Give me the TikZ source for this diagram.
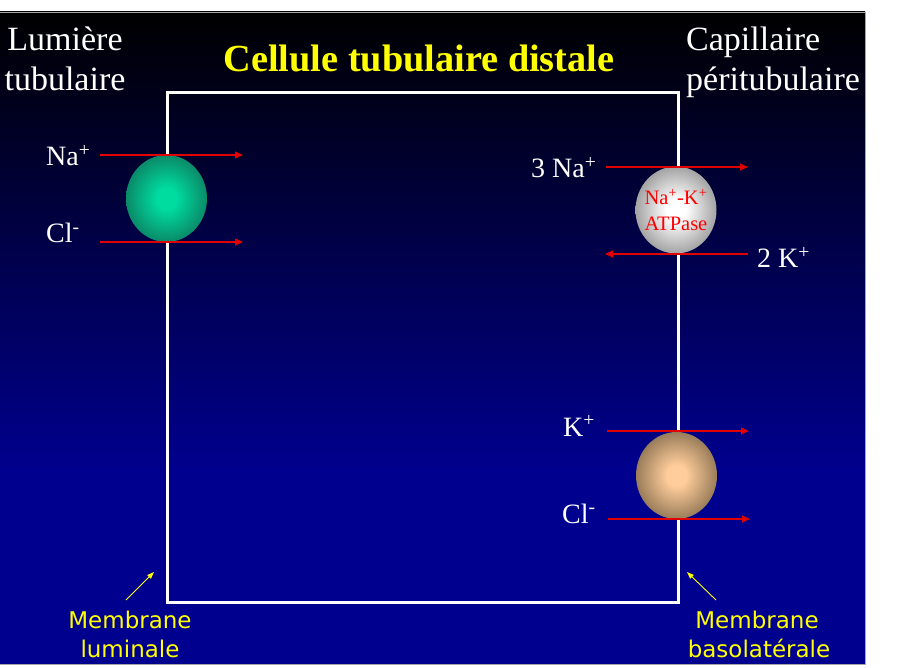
\documentclass[tikz,border=0pt]{standalone}
\usepackage{fontspec}
\setmainfont{Liberation Serif}
\newfontfamily\labelsans{DejaVu Sans}
\usetikzlibrary{arrows.meta,shapes.geometric}
\definecolor{bgblue}{RGB}{0,0,142}
\definecolor{titleyellow}{RGB}{255,255,0}
\definecolor{arrowred}{RGB}{225,0,0}
\definecolor{greenC}{RGB}{0,220,160}
\definecolor{greenE}{RGB}{15,95,75}
\definecolor{grayC}{RGB}{255,255,255}
\definecolor{grayE}{RGB}{115,115,115}
\definecolor{brownC}{RGB}{255,205,155}
\definecolor{brownE}{RGB}{100,82,55}
\pgfdeclareradialshading{ballgreen}{\pgfpoint{0bp}{0bp}}{color(0bp)=(greenC); color(6bp)=(greenC); color(35bp)=(greenE); color(50bp)=(greenE)}
\pgfdeclareradialshading{ballgray}{\pgfpoint{0bp}{0bp}}{color(0bp)=(grayC); color(6bp)=(grayC); color(35bp)=(grayE); color(50bp)=(grayE)}
\pgfdeclareradialshading{ballbrown}{\pgfpoint{0bp}{0bp}}{color(0bp)=(brownC); color(6bp)=(brownC); color(35bp)=(brownE); color(50bp)=(brownE)}
\begin{document}
\begin{tikzpicture}[x=1pt,y=-1pt,
  ion/.style={text=white,font=\fontsize{28}{30}\selectfont,inner sep=0pt,anchor=base west},
  head/.style={text=white,font=\fontsize{34}{38}\selectfont,inner sep=0pt},
  memlabel/.style={text=titleyellow,font=\labelsans\fontsize{23}{26}\selectfont,inner sep=0pt,anchor=base},
  flux/.style={draw=arrowred,line width=1.2pt,-{Triangle[length=8pt,width=7pt]}},
  pointer/.style={draw=titleyellow,line width=0.9pt,-{Triangle[length=7pt,width=5pt]}},
  carrier/.style={ellipse,shade,minimum width=81pt,minimum height=87pt,inner sep=0pt},
  atp/.style={text=red,font=\fontsize{20.5}{22}\selectfont,inner sep=0pt,anchor=base}
]
\useasboundingbox (0,0) rectangle (899,668);
\fill[white] (0,0) rectangle (899,668);
% background
\shade[top color=black,bottom color=bgblue] (0,12) rectangle (865,470);
\fill[bgblue] (0,469.5) rectangle (865,664);
\draw[gray!70,line width=0.7pt] (0,12) -- (865,12) -- (865,664) -- (0,664);
% cell
\node[draw=white,line width=3pt,minimum width=511pt,minimum height=510pt,inner sep=0pt,anchor=north west] (cell) at (166,91) {};
% headings
\node[head,anchor=base] (lum1) at (65,51) {Lumière};
\node[head,anchor=base] (lum2) at (65,91) {tubulaire};
\node[head,anchor=base west] (cap1) at (686,51) {Capillaire};
\node[head,anchor=base west] (cap2) at (686,91) {péritubulaire};
\node[text=titleyellow,font=\fontsize{38.3}{44}\selectfont\bfseries,inner sep=0pt,anchor=base] (title) at (419,72) {Cellule tubulaire distale};
% carriers
\node[carrier,shading=ballgreen] (green) at (166.5,198.5) {};
\node[carrier,shading=ballgray] (pump) at (676,210) {};
\node[carrier,shading=ballbrown] (kcl) at (676.5,475.5) {};
\node[atp] (atp1) at (676,205) {Na\textsuperscript{+}-K\textsuperscript{+}};
\node[atp] (atp2) at (676,231) {ATPase};
% ion labels
\node[ion] (naL) at (46,166) {Na\textsuperscript{+}};
\node[ion] (clL) at (46,243) {Cl\textsuperscript{-}};
\node[ion] (na3) at (531,178) {3 Na\textsuperscript{+}};
\node[ion] (k2) at (757,268) {2 K\textsuperscript{+}};
\node[ion] (kR) at (563,436) {K\textsuperscript{+}};
\node[ion] (clR) at (562,523) {Cl\textsuperscript{-}};
% flux coordinates
\coordinate (a1s) at (100,155); \coordinate (a1e) at (243,155);
\coordinate (a2s) at (100,242); \coordinate (a2e) at (243,242);
\coordinate (a3s) at (606,167); \coordinate (a3e) at (748,167);
\coordinate (a4s) at (748,254); \coordinate (a4e) at (605,254);
\coordinate (a5s) at (607,431); \coordinate (a5e) at (749,431);
\coordinate (a6s) at (608,519); \coordinate (a6e) at (750,519);
\draw[flux] (a1s) -- (a1e);
\draw[flux] (a2s) -- (a2e);
\draw[flux] (a3s) -- (a3e);
\draw[flux] (a4s) -- (a4e);
\draw[flux] (a5s) -- (a5e);
\draw[flux] (a6s) -- (a6e);
% membrane labels
\node[memlabel] (ml1) at (130,628) {Membrane};
\node[memlabel] (ml2) at (130,657) {luminale};
\node[memlabel] (mb1) at (757,628) {Membrane};
\node[memlabel] (mb2) at (759,657) {basolatérale};
\coordinate (p1s) at (126,600); \coordinate (p1e) at (154,572);
\coordinate (p2s) at (716,600); \coordinate (p2e) at (687,572);
\draw[pointer] (p1s) -- (p1e);
\draw[pointer] (p2s) -- (p2e);
\end{tikzpicture}
\end{document}
